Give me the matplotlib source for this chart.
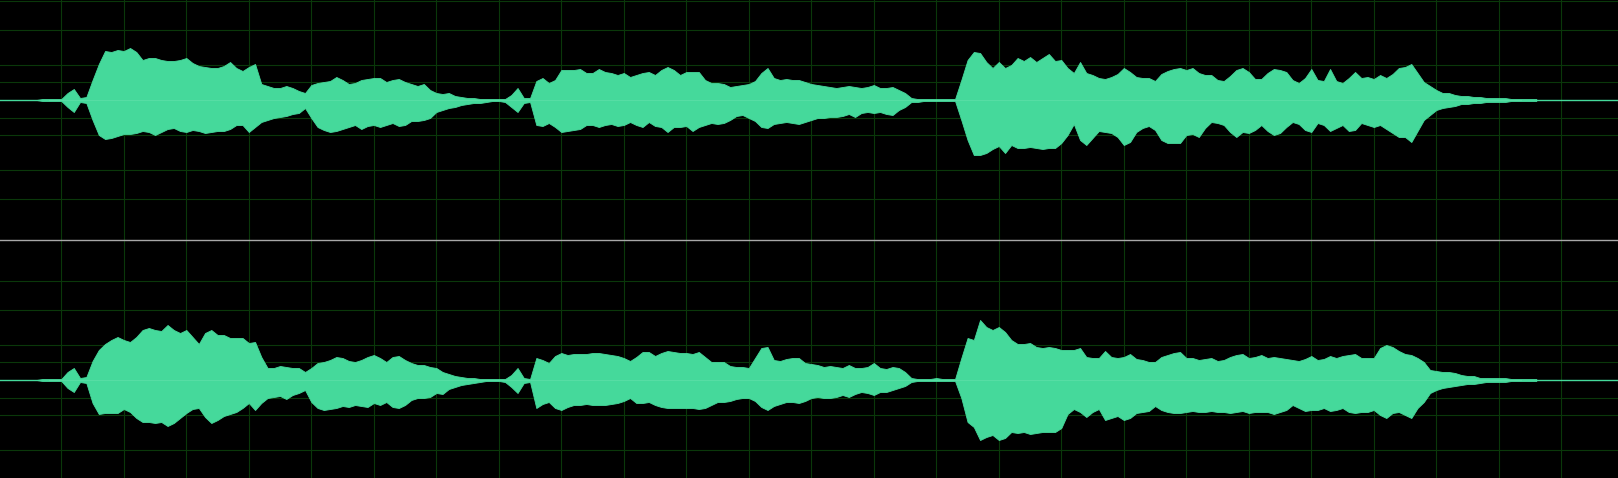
import matplotlib
matplotlib.use("Agg")
import matplotlib.pyplot as plt
from matplotlib.lines import Line2D
import numpy as np

# waveform envelope, one value every 0.1 s starting at 0.6 s
# amplitude in display units (full scale = 140)
t_start = 0.6
t_step = 0.1
full_scale = 140

top_upper = [
    0, 1, 1, 1, 1, 7, 11, 2, 3, 20,
    36, 49, 48, 50, 49, 52, 48, 40, 42, 42,
    40, 39, 39, 40, 42, 37, 34, 33, 32, 32,
    34, 38, 32, 29, 33, 36, 16, 14, 12, 12,
    14, 12, 9, 7, 15, 17, 18, 19, 23, 20,
    16, 17, 20, 21, 22, 22, 18, 20, 21, 18,
    16, 14, 16, 10, 7, 6, 7, 4, 3, 2,
    2, 1, 1, 1, 1, 1, 5, 12, 2, 2,
    19, 22, 17, 20, 30, 30, 30, 31, 27, 27,
    31, 28, 27, 25, 27, 23, 25, 27, 28, 25,
    30, 33, 30, 25, 28, 28, 28, 20, 17, 17,
    16, 13, 14, 15, 16, 19, 27, 32, 22, 20,
    21, 20, 20, 18, 16, 15, 14, 13, 12, 13,
    14, 13, 12, 13, 15, 12, 12, 13, 10, 7,
    2, 1, 1, 1, 1, 1, 1, 1, 20, 40,
    48, 47, 38, 32, 38, 32, 35, 42, 39, 43,
    38, 42, 46, 39, 40, 32, 27, 38, 27, 25,
    22, 21, 23, 26, 32, 28, 23, 22, 22, 19,
    26, 29, 31, 32, 30, 32, 27, 25, 25, 20,
    19, 24, 30, 32, 28, 21, 21, 27, 31, 30,
    28, 20, 17, 22, 31, 20, 19, 31, 19, 17,
    22, 28, 22, 23, 21, 25, 22, 26, 32, 33,
    36, 27, 18, 14, 10, 7, 7, 5, 4, 4,
    3, 3, 2, 2, 2, 2, 1, 1, 1, 1,
    1,
]

top_lower = [
    0, 1, 1, 1, 1, 7, 12, 2, 3, 20,
    35, 39, 38, 36, 34, 34, 33, 31, 32, 35,
    32, 29, 28, 31, 32, 30, 31, 33, 32, 31,
    31, 29, 25, 25, 32, 27, 22, 20, 18, 17,
    16, 14, 13, 8, 18, 27, 30, 32, 31, 29,
    27, 25, 29, 26, 25, 27, 25, 23, 26, 25,
    21, 21, 20, 18, 12, 10, 8, 7, 5, 4,
    3, 3, 2, 1, 1, 2, 7, 12, 3, 2,
    25, 26, 23, 27, 32, 31, 30, 29, 25, 25,
    27, 25, 24, 26, 25, 22, 25, 27, 22, 26,
    27, 32, 27, 27, 26, 31, 27, 25, 23, 24,
    23, 20, 16, 15, 18, 21, 27, 28, 24, 23,
    22, 23, 24, 22, 20, 18, 18, 17, 17, 16,
    14, 17, 13, 12, 13, 12, 14, 15, 10, 7,
    2, 2, 1, 1, 1, 1, 1, 1, 20, 40,
    55, 55, 53, 49, 46, 53, 45, 48, 48, 47,
    48, 49, 48, 48, 43, 35, 24, 40, 45, 38,
    31, 32, 33, 37, 45, 42, 32, 28, 26, 30,
    40, 43, 43, 43, 35, 34, 37, 28, 22, 23,
    25, 32, 37, 32, 33, 30, 25, 31, 35, 33,
    27, 22, 24, 30, 32, 23, 25, 31, 28, 25,
    31, 30, 23, 25, 27, 25, 29, 33, 37, 37,
    42, 31, 20, 15, 10, 8, 7, 6, 4, 4,
    3, 3, 2, 2, 2, 2, 1, 1, 1, 1,
    1,
]

bottom_upper = [
    0, 1, 1, 1, 1, 8, 12, 2, 3, 19,
    30, 36, 40, 43, 40, 38, 43, 50, 52, 50,
    49, 55, 50, 47, 50, 43, 36, 47, 50, 45,
    45, 42, 42, 42, 37, 38, 23, 12, 12, 14,
    13, 12, 12, 8, 12, 17, 18, 20, 23, 22,
    19, 18, 20, 23, 25, 22, 18, 23, 24, 20,
    17, 15, 15, 13, 12, 8, 6, 4, 3, 2,
    2, 1, 1, 1, 1, 1, 5, 12, 2, 1,
    22, 20, 17, 24, 27, 25, 26, 26, 26, 27,
    27, 26, 25, 24, 22, 19, 23, 28, 28, 24,
    27, 29, 28, 27, 27, 26, 28, 23, 18, 18,
    18, 14, 13, 13, 12, 22, 32, 33, 20, 19,
    21, 22, 22, 17, 16, 15, 13, 14, 13, 12,
    15, 12, 12, 13, 17, 12, 11, 13, 12, 8,
    2, 1, 1, 1, 2, 1, 1, 1, 22, 42,
    40, 60, 53, 50, 53, 48, 40, 36, 36, 37,
    33, 32, 33, 32, 30, 30, 30, 32, 23, 22,
    22, 29, 23, 22, 23, 26, 21, 20, 18, 18,
    23, 25, 27, 28, 22, 22, 20, 21, 22, 19,
    20, 23, 25, 26, 22, 23, 25, 22, 23, 22,
    21, 20, 19, 21, 24, 20, 21, 24, 22, 24,
    25, 26, 22, 22, 22, 32, 35, 33, 29, 26,
    25, 22, 18, 10, 9, 8, 8, 7, 5, 4,
    4, 2, 2, 2, 2, 2, 1, 1, 1, 1,
    1,
]

bottom_lower = [
    0, 1, 1, 1, 1, 8, 12, 2, 3, 23,
    34, 33, 33, 33, 29, 32, 38, 42, 42, 43,
    42, 46, 43, 38, 33, 29, 28, 37, 43, 40,
    36, 34, 32, 28, 23, 30, 23, 18, 17, 16,
    19, 15, 13, 10, 22, 28, 30, 29, 28, 26,
    27, 25, 26, 27, 23, 25, 22, 27, 28, 25,
    20, 18, 18, 17, 13, 14, 9, 7, 5, 4,
    3, 2, 1, 1, 1, 2, 7, 13, 3, 2,
    28, 24, 22, 28, 30, 27, 25, 25, 24, 25,
    25, 25, 24, 23, 21, 18, 23, 23, 22, 25,
    27, 28, 28, 28, 28, 28, 29, 28, 25, 22,
    22, 21, 19, 18, 18, 21, 27, 30, 26, 24,
    22, 22, 23, 21, 18, 17, 18, 18, 17, 15,
    17, 14, 12, 13, 15, 12, 12, 10, 8, 6,
    2, 1, 1, 1, 1, 1, 1, 1, 18, 42,
    47, 60, 57, 55, 60, 58, 52, 53, 52, 54,
    53, 52, 52, 52, 48, 34, 29, 32, 37, 32,
    29, 40, 38, 36, 40, 38, 33, 32, 31, 26,
    30, 32, 33, 33, 32, 31, 32, 32, 31, 32,
    32, 33, 32, 31, 33, 32, 32, 32, 34, 32,
    30, 25, 28, 31, 30, 30, 28, 31, 30, 28,
    32, 33, 32, 32, 30, 35, 38, 33, 32, 35,
    38, 28, 22, 13, 10, 8, 7, 6, 5, 4,
    4, 3, 2, 2, 2, 2, 1, 1, 1, 1,
    1,
]

db_lines = [-3, -6, -12, -18]

# colours
bg = "#000000"
wave_col = "#45d99b"
zero_col = "#6ee4b2"
grid_col = "#0a380a"
split_col = "#a8a8a8"

W, H = 1618, 478
fig = plt.figure(figsize=(W / 100, H / 100), dpi=100, facecolor=bg)

# each channel is 280 px tall, view scrolled so the outer edges are cut off
ch_h = 280 / H
ax_top = fig.add_axes([0, (H - 240) / H, 1, ch_h])
ax_bot = fig.add_axes([0, (H - 520) / H, 1, ch_h])

levels = [full_scale * 10 ** (d / 20) for d in db_lines]
ylevels = levels + [-v for v in levels]

for ax, up, lo in [(ax_top, top_upper, top_lower), (ax_bot, bottom_upper, bottom_lower)]:
    ax.set_facecolor(bg)
    t = t_start + t_step * np.arange(len(up))
    ax.set_xlim(0.019, 25.907)
    ax.set_ylim(-full_scale, full_scale)
    for x in range(1, 26):
        ax.axvline(x, color=grid_col, lw=0.8, zorder=0)
    for y in ylevels:
        ax.axhline(y, color=grid_col, lw=0.8, zorder=0)
    ax.axhline(0, color=wave_col, lw=1.0, zorder=1)
    ax.fill_between(t, np.array(up), -np.array(lo), color=wave_col, lw=0.6,
                    edgecolor=wave_col, zorder=2)
    ax.axhline(0, xmin=0.03, xmax=0.94, color=zero_col, lw=0.6, alpha=0.5, zorder=3)
    ax.set_xticks([])
    ax.set_yticks([])
    for s in ax.spines.values():
        s.set_visible(False)

# grey line between the two channels
fig.add_artist(Line2D([0, 1], [(H - 240) / H] * 2, transform=fig.transFigure,
                      color=split_col, lw=1.0, zorder=10))

fig.savefig("out.png", dpi=100, facecolor=bg)
